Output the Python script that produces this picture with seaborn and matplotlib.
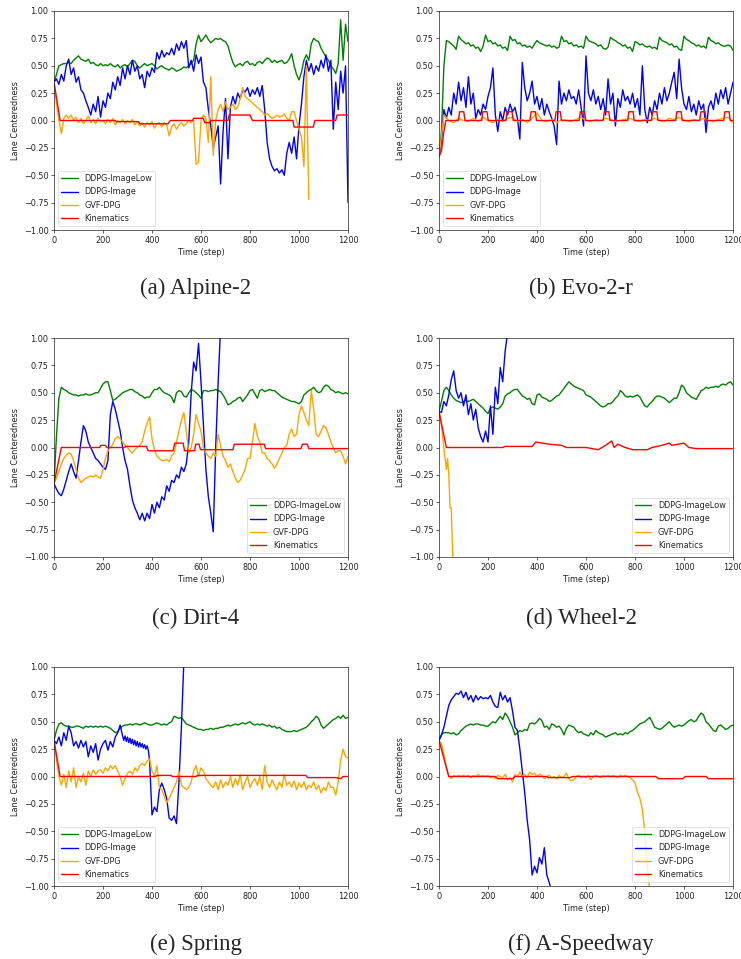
import numpy as np
import pandas as pd
import matplotlib
matplotlib.use("Agg")
import matplotlib.pyplot as plt
import seaborn as sns

# ---------------- data ----------------
series_names = ["DDPG-ImageLow", "DDPG-Image", "GVF-DPG", "Kinematics"]
series_colors = ["green", "blue", "orange", "red"]
captions = ["(a) Alpine-2", "(b) Evo-2-r", "(c) Dirt-4", "(d) Wheel-2", "(e) Spring", "(f) A-Speedway"]
x_ticks = [0, 200, 400, 600, 800, 1000, 1200]
y_ticks = [-1.0, -0.75, -0.5, -0.25, 0.0, 0.25, 0.5, 0.75, 1.0]

t_full = list(range(0, 1201, 10))

# (a) Alpine-2
a_low = [0.35, 0.42, 0.50, 0.51, 0.52, 0.52, 0.53, 0.52, 0.55, 0.57,
         0.59, 0.56, 0.55, 0.54, 0.56, 0.52, 0.53, 0.51, 0.50, 0.52,
         0.50, 0.51, 0.50, 0.52, 0.50, 0.49, 0.51, 0.48, 0.50, 0.51,
         0.49, 0.52, 0.55, 0.54, 0.50, 0.48, 0.50, 0.52, 0.50, 0.51,
         0.52, 0.50, 0.47, 0.49, 0.50, 0.48, 0.47, 0.46, 0.48, 0.47,
         0.45, 0.46, 0.47, 0.49, 0.48, 0.50, 0.52, 0.55, 0.70, 0.78,
         0.72, 0.75, 0.78, 0.74, 0.71, 0.73, 0.75, 0.74, 0.75, 0.73,
         0.72, 0.68, 0.60, 0.53, 0.49, 0.51, 0.52, 0.50, 0.53, 0.54,
         0.51, 0.52, 0.50, 0.53, 0.54, 0.52, 0.55, 0.57, 0.56, 0.53,
         0.55, 0.53, 0.54, 0.55, 0.52, 0.53, 0.56, 0.61, 0.50, 0.42,
         0.37, 0.44, 0.55, 0.60, 0.55, 0.70, 0.75, 0.73, 0.72, 0.66,
         0.62, 0.58, 0.55, 0.50, 0.47, 0.43, 0.52, 0.92, 0.55, 0.88,
         0.72]
a_img = [0.35, 0.38, 0.33, 0.42, 0.36, 0.50, 0.56, 0.42, 0.48, 0.35,
         0.40, 0.28, 0.25, 0.18, 0.12, 0.05, 0.15, 0.08, 0.22, 0.03,
         0.18, 0.12, 0.25, 0.20, 0.35, 0.28, 0.40, 0.32, 0.48, 0.38,
         0.50, 0.42, 0.55, 0.45, 0.50, 0.38, 0.42, 0.30, 0.45, 0.40,
         0.48, 0.44, 0.62, 0.56, 0.64, 0.58, 0.62, 0.60, 0.66, 0.60,
         0.70, 0.64, 0.72, 0.66, 0.73, 0.48, 0.55, 0.45, 0.60, 0.52,
         0.58, 0.35, 0.30, 0.10, -0.05, -0.25, -0.15, -0.05, -0.58, -0.10,
         0.20, -0.35, 0.12, 0.22, 0.15, 0.25, 0.20, 0.28, 0.26, 0.30,
         0.22, 0.28, 0.24, 0.30, 0.22, 0.32, 0.10, -0.20, -0.35, -0.42,
         -0.46, -0.44, -0.48, -0.45, -0.50, -0.30, -0.20, -0.30, -0.15, -0.35,
         -0.05, 0.15, 0.40, 0.55, 0.45, 0.52, 0.42, 0.50, 0.45, 0.55,
         0.48, 0.60, 0.45, 0.55, -0.08, 0.35, 0.10, 0.45, 0.25, 0.50,
         -0.75]
a_gvf_t = list(range(0, 1041, 10))
a_gvf = [0.35, 0.15, 0.00, -0.12, 0.02, 0.05, 0.02, 0.05, 0.00, 0.03,
         -0.02, 0.02, -0.03, 0.00, 0.04, -0.02, 0.01, -0.03, 0.02, -0.01,
         0.00, -0.03, 0.01, -0.02, 0.02, -0.04, 0.00, -0.02, 0.01, -0.03,
         0.00, -0.02, 0.01, -0.04, -0.01, -0.05, -0.02, -0.06, -0.02, -0.04,
         -0.01, -0.07, -0.03, -0.02, -0.06, -0.02, -0.04, -0.14, -0.06, -0.03,
         -0.08, -0.04, -0.02, -0.05, -0.03, 0.00, -0.02, 0.00, -0.40, -0.38,
         0.00, 0.05, 0.02, -0.20, 0.40, -0.32, 0.00, 0.10, 0.15, 0.08,
         0.17, 0.10, 0.12, 0.15, 0.10, 0.12, 0.20, 0.30, 0.22, 0.20,
         0.18, 0.16, 0.14, 0.12, 0.10, 0.08, 0.05, 0.06, 0.04, 0.02,
         0.03, 0.05, 0.03, 0.04, 0.06, 0.02, 0.00, 0.08, 0.08, 0.00,
         -0.08, -0.15, -0.42, 0.50, -0.72]
a_kin_t = [0, 25, 250, 255, 345, 350, 465, 475, 565, 570, 610, 615, 635, 640,
           710, 715, 800, 810, 975, 980, 1058, 1065, 1150, 1155, 1200]
a_kin = [0.35, 0.0, 0.0, -0.01, -0.01, -0.03, -0.03, 0.0, 0.0, 0.02, 0.02, -0.02, -0.02, 0.0,
         0.0, 0.05, 0.05, 0.0, 0.0, -0.06, -0.06, 0.0, 0.0, 0.05, 0.05]

# (b) Evo-2-r
b_low = [-0.33, -0.10, 0.50, 0.73, 0.72, 0.70, 0.68, 0.65, 0.77, 0.74,
         0.72, 0.70, 0.71, 0.68, 0.69, 0.66, 0.67, 0.63, 0.68, 0.78,
         0.72, 0.73, 0.70, 0.71, 0.68, 0.69, 0.66, 0.67, 0.64, 0.77,
         0.73, 0.74, 0.70, 0.71, 0.68, 0.69, 0.67, 0.68, 0.66, 0.70,
         0.73, 0.71, 0.70, 0.69, 0.68, 0.69, 0.67, 0.68, 0.66, 0.67,
         0.77, 0.72, 0.73, 0.70, 0.71, 0.68, 0.69, 0.67, 0.68, 0.66,
         0.77, 0.73, 0.72, 0.71, 0.70, 0.68, 0.69, 0.66, 0.65, 0.67,
         0.76, 0.74, 0.73, 0.71, 0.70, 0.68, 0.69, 0.66, 0.67, 0.63,
         0.72, 0.71, 0.69, 0.70, 0.68, 0.67, 0.68, 0.66, 0.67, 0.65,
         0.76, 0.73, 0.72, 0.71, 0.69, 0.70, 0.67, 0.68, 0.65, 0.64,
         0.77, 0.74, 0.73, 0.71, 0.70, 0.68, 0.69, 0.67, 0.68, 0.66,
         0.76, 0.73, 0.72, 0.70, 0.71, 0.69, 0.68, 0.68, 0.69, 0.68,
         0.64]
b_img = [-0.33, -0.20, 0.10, 0.02, 0.12, 0.05, 0.25, 0.15, 0.35, 0.18,
         0.30, 0.12, 0.40, 0.15, 0.25, 0.02, 0.10, 0.05, 0.15, 0.10,
         0.22, 0.30, 0.48, 0.05, -0.10, 0.08, 0.00, 0.12, 0.05, 0.15,
         0.08, 0.12, 0.02, -0.17, 0.53, 0.30, 0.18, 0.25, 0.36, 0.15,
         0.22, 0.10, 0.20, 0.05, 0.15, 0.08, 0.02, -0.05, -0.22, 0.36,
         0.15, 0.25, 0.18, 0.28, 0.20, 0.22, 0.15, 0.28, 0.12, -0.05,
         0.59, 0.25, 0.18, 0.28, 0.15, 0.22, 0.10, 0.20, 0.05, 0.38,
         0.15, 0.25, -0.05, 0.20, 0.12, 0.28, 0.18, 0.22, 0.15, 0.25,
         0.12, 0.20, 0.05, 0.50, 0.10, -0.02, 0.12, 0.05, 0.18, 0.10,
         0.25, 0.15, 0.30, 0.18, 0.25, 0.35, 0.44, 0.20, 0.56, 0.30,
         0.15, 0.10, 0.22, 0.08, 0.15, 0.05, 0.18, 0.10, 0.15, -0.11,
         0.12, 0.18, 0.10, 0.25, 0.15, 0.28, 0.20, 0.30, 0.15, 0.25,
         0.35]
b_gvf_t = list(range(0, 1201, 20))
b_gvf = [-0.33, 0.05, 0.00, -0.02, 0.02, 0.00, -0.01, 0.02, -0.01, 0.03,
         0.00, -0.02, 0.01, -0.01, 0.02, 0.03, -0.01, 0.01, -0.02, 0.02,
         0.07, 0.00, -0.01, 0.01, -0.02, 0.01, 0.00, -0.01, 0.01, 0.03,
         0.00, -0.01, 0.01, 0.00, 0.02, 0.01, -0.01, 0.00, 0.01, 0.02,
         0.00, -0.01, 0.01, 0.00, 0.02, 0.00, -0.01, 0.02, 0.01, 0.03,
         0.00, -0.01, 0.01, 0.00, 0.02, 0.00, -0.01, 0.01, 0.02, 0.03,
         -0.02]
b_kin_t = [0, 10, 20, 28,
           79, 84, 101, 106, 174, 179, 196, 201, 273, 278, 298, 303,
           371, 376, 393, 398, 473, 478, 495, 500, 572, 577, 594, 599,
           670, 675, 693, 698, 770, 775, 792, 797, 867, 872, 889, 894,
           966, 971, 988, 993, 1064, 1069, 1086, 1091, 1162, 1167, 1184, 1189,
           1200]
b_kin = [-0.33, -0.28, -0.10, 0.0,
         0.0, 0.08, 0.08, 0.0, 0.0, 0.08, 0.08, 0.0, 0.0, 0.08, 0.08, 0.0,
         0.0, 0.08, 0.08, 0.0, 0.0, 0.08, 0.08, 0.0, 0.0, 0.08, 0.08, 0.0,
         0.0, 0.08, 0.08, 0.0, 0.0, 0.08, 0.08, 0.0, 0.0, 0.08, 0.08, 0.0,
         0.0, 0.08, 0.08, 0.0, 0.0, 0.08, 0.08, 0.0, 0.0, 0.08, 0.08, 0.0,
         0.0]

# (c) Dirt-4
c_low = [-0.33, 0.10, 0.45, 0.55, 0.53, 0.52, 0.50, 0.49, 0.48, 0.48,
         0.47, 0.48, 0.48, 0.49, 0.48, 0.48, 0.49, 0.50, 0.50, 0.54,
         0.58, 0.60, 0.60, 0.52, 0.43, 0.44, 0.46, 0.48, 0.50, 0.51,
         0.52, 0.53, 0.53, 0.51, 0.50, 0.48, 0.47, 0.45, 0.46, 0.46,
         0.50, 0.53, 0.53, 0.55, 0.52, 0.50, 0.49, 0.48, 0.46, 0.41,
         0.50, 0.52, 0.51, 0.47, 0.46, 0.50, 0.53, 0.52, 0.50, 0.48,
         0.45, 0.52, 0.52, 0.51, 0.52, 0.52, 0.53, 0.52, 0.51, 0.48,
         0.44, 0.39, 0.40, 0.42, 0.43, 0.45, 0.46, 0.42, 0.45, 0.48,
         0.52, 0.53, 0.49, 0.45, 0.52, 0.53, 0.51, 0.52, 0.53, 0.52,
         0.52, 0.50, 0.48, 0.46, 0.45, 0.44, 0.43, 0.42, 0.42, 0.41,
         0.40, 0.42, 0.48, 0.50, 0.52, 0.53, 0.55, 0.52, 0.50, 0.51,
         0.55, 0.57, 0.56, 0.53, 0.52, 0.50, 0.51, 0.50, 0.49, 0.50,
         0.49]
c_img_t = list(range(0, 681, 10))
c_img = [-0.33, -0.38, -0.42, -0.44, -0.38, -0.30, -0.22, -0.15, -0.22, -0.28,
         -0.12, 0.05, 0.20, 0.15, 0.05, 0.00, -0.05, -0.10, -0.12, -0.15,
         -0.18, -0.20, -0.12, 0.30, 0.42, 0.35, 0.25, 0.15, 0.00, -0.12,
         -0.20, -0.35, -0.48, -0.55, -0.60, -0.66, -0.60, -0.67, -0.60, -0.65,
         -0.52, -0.60, -0.50, -0.55, -0.45, -0.48, -0.35, -0.40, -0.30, -0.32,
         -0.25, -0.28, -0.18, -0.22, -0.15, 0.05, 0.50, 0.78, 0.70, 0.95,
         0.60, 0.20, -0.20, -0.45, -0.60, -0.77, 0.00, 0.60, 1.10]
c_gvf = [-0.33, -0.28, -0.22, -0.15, -0.10, -0.07, -0.05, -0.06, -0.12, -0.20,
         -0.28, -0.32, -0.30, -0.28, -0.27, -0.26, -0.27, -0.25, -0.27, -0.28,
         -0.20, -0.10, -0.03, 0.00, 0.03, 0.08, 0.10, 0.08, 0.05, 0.02,
         0.00, -0.03, -0.05, -0.02, 0.00, 0.02, 0.05, 0.15, 0.22, 0.28,
         0.08, -0.02, -0.08, -0.10, -0.12, -0.12, -0.11, -0.13, -0.08, -0.05,
         0.05, 0.15, 0.25, 0.32, 0.15, -0.05, 0.00, 0.12, 0.30, 0.22,
         0.15, 0.00, -0.05, -0.08, -0.10, -0.05, -0.08, 0.12, 0.02, -0.08,
         -0.12, -0.18, -0.15, -0.22, -0.28, -0.32, -0.30, -0.25, -0.20, -0.10,
         -0.10, 0.05, 0.22, 0.10, 0.05, -0.05, -0.05, -0.10, -0.12, -0.15,
         -0.19, -0.15, -0.10, -0.05, 0.00, 0.02, 0.12, 0.17, 0.10, 0.12,
         0.30, 0.38, 0.32, 0.25, 0.20, 0.52, 0.35, 0.12, 0.10, 0.15,
         0.20, 0.18, 0.12, 0.05, 0.00, -0.05, -0.03, -0.03, -0.08, -0.15,
         -0.08]
c_kin_t = [0, 30, 186, 192, 210, 216, 288, 292, 377, 384, 486, 493, 527, 533,
           574, 578, 592, 598, 730, 736, 858, 864, 1008, 1014, 1034, 1040, 1200]
c_kin = [-0.33, 0.0, 0.0, 0.02, 0.02, 0.0, 0.0, 0.01, 0.01, -0.03, -0.03, 0.04, 0.04, -0.03,
         -0.03, 0.03, 0.03, -0.02, -0.02, 0.03, 0.03, -0.01, -0.01, 0.03, 0.03, -0.01, -0.01]

# (d) Wheel-2
d_low = [0.33, 0.42, 0.52, 0.55, 0.52, 0.48, 0.45, 0.43, 0.42, 0.41,
         0.42, 0.43, 0.42, 0.43, 0.44, 0.42, 0.40, 0.38, 0.36, 0.33,
         0.31, 0.36, 0.37, 0.36, 0.35, 0.37, 0.40, 0.47, 0.49, 0.50,
         0.52, 0.53, 0.53, 0.50, 0.47, 0.46, 0.44, 0.45, 0.40, 0.39,
         0.48, 0.49, 0.46, 0.45, 0.44, 0.42, 0.43, 0.45, 0.47, 0.48,
         0.51, 0.54, 0.57, 0.60, 0.58, 0.56, 0.55, 0.54, 0.53, 0.52,
         0.48, 0.47, 0.46, 0.44, 0.42, 0.40, 0.38, 0.37, 0.38, 0.40,
         0.40, 0.42, 0.45, 0.47, 0.52, 0.50, 0.47, 0.46, 0.47, 0.46,
         0.47, 0.48, 0.46, 0.42, 0.38, 0.37, 0.40, 0.42, 0.45, 0.47,
         0.47, 0.46, 0.45, 0.43, 0.41, 0.43, 0.45, 0.45, 0.50, 0.57,
         0.55, 0.50, 0.48, 0.46, 0.45, 0.44, 0.48, 0.52, 0.53, 0.55,
         0.54, 0.55, 0.55, 0.56, 0.55, 0.57, 0.58, 0.57, 0.59, 0.60,
         0.57]
d_img_t = list(range(0, 281, 10))
d_img = [0.33, 0.32, 0.42, 0.38, 0.48, 0.62, 0.70, 0.52, 0.45, 0.50,
         0.38, 0.48, 0.30, 0.40, 0.25, 0.35, 0.18, 0.10, 0.05, 0.15,
         0.05, 0.38, 0.12, 0.55, 0.40, 0.73, 0.60, 0.88, 1.05]
d_gvf_t = [0, 10, 20, 30, 35, 40, 45, 50, 57]
d_gvf = [0.33, 0.20, 0.00, -0.20, -0.10, -0.25, -0.55, -0.55, -1.05]
d_kin_t = [0, 30, 260, 270, 380, 395, 450, 500, 520, 600, 650, 680, 705, 715, 730, 760,
           790, 850, 870, 910, 940, 950, 1000, 1020, 1050, 1200]
d_kin = [0.33, 0.0, 0.0, 0.01, 0.01, 0.05, 0.03, 0.02, 0.0, 0.0, -0.02, 0.02, 0.06, 0.0, 0.03, 0.0,
         -0.02, -0.02, 0.0, 0.02, 0.04, 0.02, 0.04, 0.0, -0.01, -0.01]

# (e) Spring
e_low = [0.33, 0.42, 0.48, 0.49, 0.47, 0.46, 0.46, 0.45, 0.45, 0.46,
         0.46, 0.45, 0.44, 0.46, 0.45, 0.46, 0.45, 0.46, 0.45, 0.46,
         0.45, 0.46, 0.45, 0.44, 0.42, 0.40, 0.41, 0.44, 0.46, 0.47,
         0.47, 0.48, 0.47, 0.48, 0.48, 0.47, 0.48, 0.49, 0.48, 0.47,
         0.47, 0.48, 0.49, 0.48, 0.47, 0.48, 0.47, 0.49, 0.50, 0.55,
         0.54, 0.53, 0.54, 0.51, 0.48, 0.47, 0.46, 0.45, 0.44, 0.43,
         0.43, 0.42, 0.43, 0.43, 0.44, 0.43, 0.44, 0.44, 0.45, 0.45,
         0.46, 0.47, 0.46, 0.47, 0.48, 0.47, 0.48, 0.49, 0.48, 0.49,
         0.50, 0.48, 0.47, 0.48, 0.47, 0.48, 0.47, 0.46, 0.47, 0.45,
         0.46, 0.44, 0.45, 0.43, 0.42, 0.41, 0.41, 0.41, 0.42, 0.41,
         0.42, 0.43, 0.44, 0.45, 0.47, 0.50, 0.52, 0.55, 0.53, 0.47,
         0.44, 0.46, 0.48, 0.50, 0.52, 0.53, 0.55, 0.53, 0.56, 0.53,
         0.54]
e_img_t = [0, 10, 20, 30, 40, 50, 60, 70, 80, 90,
           100, 110, 120, 130, 140, 150, 160, 170, 180, 190,
           200, 210, 220, 230, 240, 250, 260, 270,
           280, 285, 290, 295, 300, 305, 310, 315, 320, 325, 330, 335,
           340, 345, 350, 355, 360, 365, 370, 375, 380, 385, 390,
           400, 410, 420, 430, 440, 450, 460, 470, 480, 490,
           500, 510, 520, 530]
e_img = [0.33, 0.30, 0.36, 0.28, 0.40, 0.33, 0.46, 0.40, 0.28, 0.32,
         0.26, 0.33, 0.27, 0.32, 0.18, 0.28, 0.22, 0.30, 0.15, 0.25,
         0.30, 0.33, 0.24, 0.32, 0.27, 0.36, 0.40, 0.47,
         0.37, 0.33, 0.37, 0.32, 0.36, 0.31, 0.35, 0.30, 0.34, 0.29, 0.33, 0.28,
         0.32, 0.27, 0.31, 0.27, 0.30, 0.26, 0.29, 0.25, 0.28, 0.24, 0.15,
         -0.35, -0.28, -0.32, -0.12, -0.06, -0.12, -0.20, -0.38, -0.40, -0.36,
         -0.43, -0.05, 0.45, 1.05]
e_gvf = [0.33, 0.15, 0.00, -0.08, 0.02, -0.10, 0.05, -0.05, 0.08, -0.10,
         0.00, -0.05, 0.03, -0.08, 0.05, 0.00, 0.06, 0.02, 0.05, 0.06,
         0.03, 0.08, 0.05, 0.10, 0.07, 0.10, 0.05, 0.00, -0.08, -0.02,
         0.03, 0.05, 0.02, 0.08, 0.05, 0.10, 0.12, 0.10, 0.14, 0.16,
         0.05, 0.00, 0.10, -0.10, -0.12, -0.18, -0.24, -0.20, -0.15, -0.10,
         -0.05, 0.05, -0.08, -0.10, -0.12, -0.10, -0.05, 0.05, 0.10, 0.00,
         0.08, 0.05, -0.02, -0.05, -0.08, -0.10, -0.05, -0.12, -0.03, -0.10,
         -0.05, -0.08, 0.00, -0.10, -0.02, -0.08, 0.02, -0.12, -0.05, 0.00,
         -0.10, -0.05, -0.02, -0.08, 0.00, -0.12, 0.10, -0.05, -0.10, -0.03,
         -0.08, -0.12, -0.05, -0.10, 0.02, -0.08, -0.05, -0.10, -0.04, -0.12,
         -0.06, -0.10, -0.05, -0.12, -0.08, -0.10, -0.05, -0.12, -0.08, -0.15,
         -0.10, -0.13, -0.05, -0.10, -0.10, -0.17, -0.05, 0.15, 0.25, 0.18,
         0.17]
e_kin_t = [0, 25, 415, 420, 478, 483, 580, 585, 1028, 1035, 1150, 1170, 1180, 1200]
e_kin = [0.33, 0.0, 0.0, 0.01, 0.01, 0.0, 0.0, 0.01, 0.01, -0.01, -0.01, -0.02, 0.0, 0.0]

# (f) A-Speedway
f_low = [0.33, 0.38, 0.40, 0.40, 0.40, 0.39, 0.40, 0.38, 0.39, 0.42,
         0.44, 0.46, 0.47, 0.48, 0.47, 0.48, 0.48, 0.47, 0.47, 0.46,
         0.46, 0.48, 0.50, 0.49, 0.52, 0.55, 0.52, 0.58, 0.55, 0.50,
         0.45, 0.38, 0.40, 0.42, 0.41, 0.43, 0.42, 0.48, 0.49, 0.48,
         0.50, 0.53, 0.51, 0.45, 0.46, 0.43, 0.48, 0.47, 0.45, 0.46,
         0.43, 0.38, 0.44, 0.47, 0.46, 0.45, 0.42, 0.40, 0.41, 0.39,
         0.38, 0.37, 0.40, 0.38, 0.42, 0.40, 0.39, 0.38, 0.36, 0.37,
         0.38, 0.39, 0.40, 0.38, 0.39, 0.38, 0.40, 0.39, 0.41, 0.42,
         0.44, 0.46, 0.48, 0.49, 0.50, 0.52, 0.54, 0.50, 0.45, 0.44,
         0.43, 0.44, 0.46, 0.48, 0.50, 0.47, 0.45, 0.46, 0.47, 0.46,
         0.47, 0.49, 0.51, 0.52, 0.50, 0.51, 0.55, 0.58, 0.56, 0.50,
         0.48, 0.45, 0.42, 0.41, 0.46, 0.47, 0.45, 0.43, 0.44, 0.46,
         0.47]
f_img_t = list(range(0, 461, 10))
f_img = [0.33, 0.38, 0.45, 0.55, 0.65, 0.70, 0.73, 0.76, 0.75, 0.78,
         0.72, 0.77, 0.70, 0.74, 0.68, 0.74, 0.70, 0.73, 0.71, 0.72,
         0.71, 0.74, 0.68, 0.64, 0.63, 0.77, 0.70, 0.74, 0.68, 0.72,
         0.60, 0.45, 0.42, 0.25, 0.05, -0.15, -0.40, -0.58, -0.90, -0.82,
         -0.88, -0.74, -0.80, -0.65, -0.90, -0.97, -1.05]
f_gvf_t = list(range(0, 861, 10))
f_gvf = [0.33, 0.30, 0.20, 0.08, 0.00, -0.02, 0.01, 0.00, 0.01, 0.00,
         0.01, 0.00, 0.01, -0.01, 0.01, 0.00, 0.02, 0.00, 0.01, 0.00,
         0.01, -0.01, 0.00, -0.02, 0.01, 0.00, -0.01, 0.02, -0.03, -0.01,
         -0.05, 0.02, 0.00, 0.04, 0.00, 0.02, -0.01, 0.04, 0.02, 0.03,
         0.00, 0.02, 0.01, -0.02, 0.00, 0.01, -0.01, 0.00, -0.02, 0.01,
         -0.01, 0.00, 0.03, -0.02, -0.04, -0.03, 0.00, 0.01, -0.01, 0.00,
         -0.01, 0.01, -0.03, 0.00, 0.01, 0.00, -0.01, 0.01, 0.00, 0.01,
         0.00, 0.01, 0.00, -0.01, 0.01, 0.00, 0.01, 0.00, -0.01, -0.03,
         -0.06, -0.14, -0.20, -0.30, -0.50, -0.80, -1.05]
f_kin_t = [0, 40, 230, 240, 300, 310, 440, 445, 535, 545, 885, 895, 995, 1005, 1090, 1100, 1200]
f_kin = [0.33, 0.0, 0.0, -0.02, -0.02, 0.0, 0.0, -0.01, -0.01, 0.0, 0.0, -0.02, -0.02, 0.0, 0.0, -0.02, -0.02]

panels = [
    [(t_full, a_low), (t_full, a_img), (a_gvf_t, a_gvf), (a_kin_t, a_kin)],
    [(t_full, b_low), (t_full, b_img), (b_gvf_t, b_gvf), (b_kin_t, b_kin)],
    [(t_full, c_low), (c_img_t, c_img), (t_full, c_gvf), (c_kin_t, c_kin)],
    [(t_full, d_low), (d_img_t, d_img), (d_gvf_t, d_gvf), (d_kin_t, d_kin)],
    [(t_full, e_low), (e_img_t, e_img), (t_full, e_gvf), (e_kin_t, e_kin)],
    [(t_full, f_low), (f_img_t, f_img), (f_gvf_t, f_gvf), (f_kin_t, f_kin)],
]
legend_locs = ["lower left", "lower left", "lower right", "lower right", "lower left", "lower right"]

# ---------------- style ----------------
sns.set_style("ticks")
plt.rcParams.update({
    "font.family": ["DejaVu Sans"],
    "font.size": 5.9,
    "axes.linewidth": 0.5,
    "axes.edgecolor": "#222222",
    "xtick.major.width": 0.5,
    "ytick.major.width": 0.5,
    "xtick.major.size": 2.0,
    "ytick.major.size": 2.0,
    "xtick.major.pad": 2.0,
    "ytick.major.pad": 2.0,
    "xtick.color": "#222222",
    "ytick.color": "#222222",
    "axes.labelcolor": "#222222",
    "axes.labelpad": 2.4,
})

W, H = 741, 959
fig = plt.figure(figsize=(W / 100, H / 100), dpi=100)

lefts = [54, 439]
tops = [11, 338, 667]
aw, ah = 294, 219
cap_y = [288, 618, 944]

for i in range(6):
    r, c = divmod(i, 2)
    l, t = lefts[c], tops[r]
    ax = fig.add_axes([l / W, 1 - (t + ah) / H, aw / W, ah / H])
    for (tx, ty), name, col in zip(panels[i], series_names, series_colors):
        df = pd.DataFrame({"Time (step)": tx, "Lane Centeredness": ty})
        sns.lineplot(data=df, x="Time (step)", y="Lane Centeredness", ax=ax,
                     color=col, linewidth=1.0, label=name, estimator=None, sort=False)
    ax.set_xlim(0, 1200)
    ax.set_ylim(-1, 1)
    ax.set_xticks(x_ticks)
    ax.set_yticks(y_ticks)
    ax.set_xlabel("Time (step)", fontsize=5.9)
    ax.set_ylabel("Lane Centeredness", fontsize=5.9)
    ax.tick_params(labelsize=5.9)
    leg = ax.legend(loc=legend_locs[i], fontsize=5.9, frameon=True, fancybox=True,
                    framealpha=0.8, edgecolor="#cccccc", borderpad=0.4,
                    labelspacing=0.5, handlelength=2.0, handletextpad=0.8,
                    borderaxespad=0.5)
    leg.get_frame().set_linewidth(0.5)
    fig.text((l + aw / 2 - 5) / W, 1 - cap_y[r] / H, captions[i],
             ha="center", va="center", family="Liberation Serif", fontsize=16.5)

fig.savefig("out.png", dpi=100)
